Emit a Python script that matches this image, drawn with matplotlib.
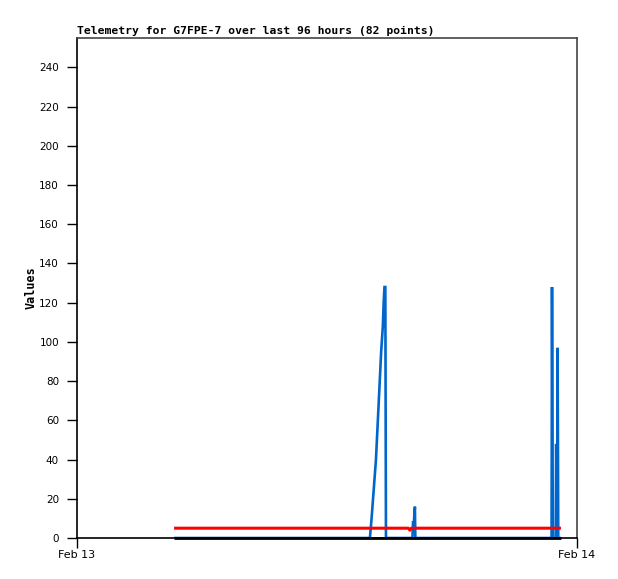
import matplotlib
matplotlib.use("Agg")
import matplotlib.pyplot as plt
from datetime import datetime, timedelta

base = datetime(2024, 2, 13)

# hours since Feb 13 00:00
black_hours = [4.66, 23.23]
black_vals = [0, 0]

red_hours = [4.66, 15.90, 15.98, 16.05, 22.95, 23.00, 23.23]
red_vals = [5, 5, 4, 5, 5, 5, 5]

blue_hours = [4.66, 14.06, 14.14, 14.35, 14.60, 14.68, 14.72, 14.76, 14.80, 14.83,
              16.10, 16.13, 16.17, 16.22, 16.24,
              22.78, 22.80, 22.84, 22.98, 23.00, 23.04, 23.07, 23.10, 23.23]
blue_vals = [0, 0, 10, 40, 95, 108, 120, 128, 128, 0,
             0, 8, 8, 16, 0,
             0, 128, 0, 0, 48, 0, 97, 0, 0]

title = "Telemetry for G7FPE-7 over last 96 hours (82 points)"
yticks = list(range(0, 241, 20))

def to_dt(hs):
    return [base + timedelta(hours=h) for h in hs]

fig = plt.figure(figsize=(6.18, 5.79), dpi=100)
ax = fig.add_axes([77/618, 41/579, 500/618, 500/579])

ax.plot(to_dt(blue_hours), blue_vals, color="#0066cc", lw=1.9, solid_capstyle="butt",
        solid_joinstyle="miter", zorder=2)
ax.plot(to_dt(red_hours), red_vals, color="#ff0000", lw=2.2, solid_capstyle="butt", zorder=3)
ax.plot(to_dt(black_hours), black_vals, color="black", lw=2.0, solid_capstyle="butt", zorder=4,
        clip_on=False)

ax.set_xlim(base, base + timedelta(days=1))
ax.set_ylim(0, 255)
ax.set_yticks(yticks)
ax.set_yticklabels([str(v) for v in yticks], fontsize=7.5, family="DejaVu Sans")
ax.set_xticks([base, base + timedelta(days=1)])
ax.set_xticklabels(["Feb 13", "Feb 14"], fontsize=8, family="DejaVu Sans")
ax.tick_params(axis="both", direction="out", length=7, width=1)
ax.tick_params(axis="y", pad=6)
ax.tick_params(axis="x", pad=2)

for s in ["left", "bottom"]:
    ax.spines[s].set_color("black")
    ax.spines[s].set_linewidth(1.2)
for s in ["top", "right"]:
    ax.spines[s].set_color("#444444")
    ax.spines[s].set_linewidth(1.2)

ax.set_ylabel("Values", fontsize=8.5, fontweight="bold", family="DejaVu Sans Mono", labelpad=1)
ax.set_title(title, loc="left", fontsize=8.2, fontweight="bold", family="DejaVu Sans Mono", pad=3)

fig.savefig("out.png", dpi=100, facecolor="white")
